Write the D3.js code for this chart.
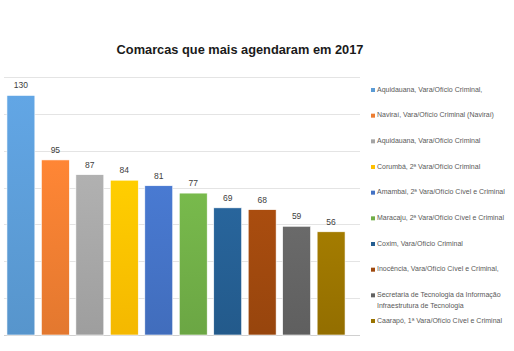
<!DOCTYPE html>
<html lang="pt">
<head>
	<meta charset="UTF-8">
	<title>Comarcas que mais agendaram em 2017</title>
	<style>
		body { margin: 0; background: #fff; }
		text { font-family: "Liberation Sans", Arial, sans-serif; }
	</style>
</head>
<body>
	<svg id="cont" width="514" height="351">
		<defs id="defs"></defs>
		<g id="grid"></g>
		<g id="body"></g>
		<g id="legend"></g>
	</svg>
</body>
<script src="https://cdn.jsdelivr.net/npm/d3@7"></script>
<script>
	// dados
	let comarcas = [
		"Aquidauana, Vara/Ofício Criminal,",
		"Naviraí, Vara/Ofício Criminal (Naviraí)",
		"Aquidauana, Vara/Ofício Criminal",
		"Corumbá, 2ª Vara/Ofício Criminal",
		"Amambai, 2ª Vara/Ofício Cível e Criminal",
		"Maracaju, 2ª Vara/Ofício Cível e Criminal",
		"Coxim, Vara/Ofício Criminal",
		"Inocência, Vara/Ofício Cível e Criminal,",
		"Secretaria de Tecnologia da Informação|Infraestrutura de Tecnologia",
		"Caarapó, 1ª Vara/Ofício Cível e Criminal"
	];
	let agendamentos = [130, 95, 87, 84, 81, 77, 69, 68, 59, 56];
	let cores = ["#5b9bd5", "#ed7d31", "#a5a5a5", "#ffc000", "#4472c4",
		"#70ad47", "#255e91", "#9e480e", "#636363", "#997300"];
	let yticks = [0, 20, 40, 60, 80, 100, 120, 140];

	let svg = d3.select("#cont");

	svg.append("text")
		.attr("x", 240).attr("y", 54)
		.attr("text-anchor", "middle")
		.attr("font-size", "12.8px")
		.attr("font-weight", "bold")
		.attr("fill", "#1a1a1a")
		.text("Comarcas que mais agendaram em 2017");

	let x = d3.scaleBand()
		.domain(d3.range(comarcas.length))
		.range([3.5, 348.5])
		.paddingInner(0.19)
		.paddingOuter(0.1);

	let y = d3.scaleLinear()
		.domain([0, 140])
		.range([335, 77]);

	// linhas de grade
	d3.select("#grid").selectAll("line")
		.data(yticks)
		.enter().append("line")
		.attr("x1", 4).attr("x2", 360)
		.attr("y1", d => Math.round(y(d)) + 0.5)
		.attr("y2", d => Math.round(y(d)) + 0.5)
		.attr("stroke", d => d == 0 ? "#d0d0d0" : "#e4e4e4")
		.attr("stroke-width", 1);

	// gradientes leves nas barras
	let defs = d3.select("#defs");
	cores.forEach((c, i) => {
		let g = defs.append("linearGradient")
			.attr("id", "grad" + i)
			.attr("x1", 0).attr("y1", 0).attr("x2", 0).attr("y2", 1);
		g.append("stop").attr("offset", "0%").attr("stop-color", d3.color(c).brighter(0.2));
		g.append("stop").attr("offset", "100%").attr("stop-color", d3.color(c).darker(0.12));
	});

	let container = d3.select("#body");
	let join = container.selectAll("rect").data(agendamentos);
	join.enter().append("rect")
		.attr("x", (d, i) => x(i))
		.attr("y", d => y(d))
		.attr("width", x.bandwidth())
		.attr("height", d => y(0) - y(d))
		.attr("fill", (d, i) => "url(#grad" + i + ")")
		.attr("stroke", "#ffffff")
		.attr("stroke-width", 0.6);

	container.selectAll("text.val").data(agendamentos)
		.enter().append("text")
		.attr("class", "val")
		.attr("x", (d, i) => x(i) + x.bandwidth() / 2)
		.attr("y", d => y(d) - 7)
		.attr("text-anchor", "middle")
		.attr("font-size", "8.5px")
		.attr("fill", "#404040")
		.text(d => d);

	// legenda
	let legenda = d3.select("#legend");
	let ly = d3.scaleLinear().domain([0, 9]).range([91, 322]);
	let item = legenda.selectAll("g").data(comarcas)
		.enter().append("g")
		.attr("transform", (d, i) => "translate(371," + ly(i) + ")");
	item.append("rect")
		.attr("x", 0).attr("y", -3)
		.attr("width", 4).attr("height", 4)
		.attr("fill", (d, i) => cores[i]);
	item.append("text")
		.attr("x", 6).attr("y", 0)
		.attr("dy", "0.35em")
		.attr("font-size", "7px")
		.attr("fill", "#595959")
		.each(function(d) {
			let linhas = d.split("|");
			let t = d3.select(this);
			linhas.forEach((l, k) => {
				t.append("tspan").attr("x", 6).attr("dy", k == 0 ? "0.1em" : "1.5em").text(l);
			});
		});
</script>
</html>
